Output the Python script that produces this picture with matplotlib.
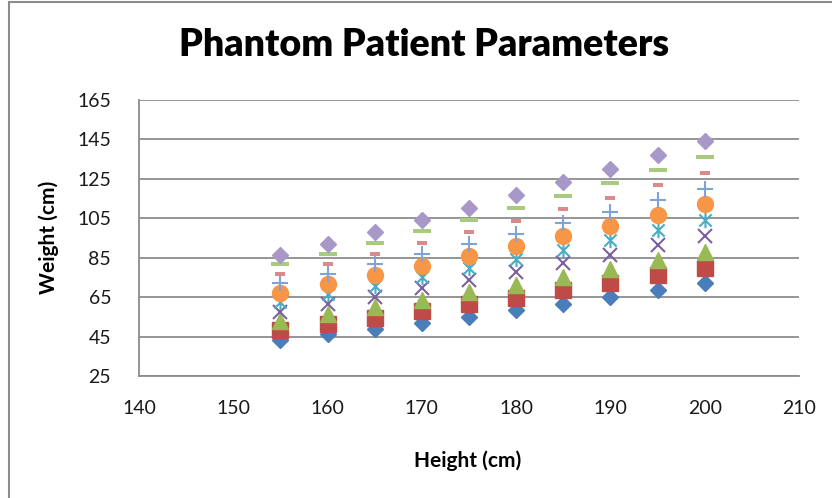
import matplotlib
matplotlib.use("Agg")
import matplotlib.pyplot as plt
from matplotlib.path import Path
from matplotlib.patches import Rectangle

# Patient heights (cm)
heights = [155, 160, 165, 170, 175, 180, 185, 190, 195, 200]

# Weight series, one list per marker group
w_blue_diamond = [43.2, 46.1, 49.0, 52.0, 55.1, 58.3, 61.6, 65.0, 68.4, 72.0]
w_red_square = [48.1, 51.2, 54.5, 57.8, 61.3, 64.8, 68.5, 72.2, 76.1, 80.0]
w_green_triangle = [52.9, 56.3, 59.9, 63.6, 67.4, 71.3, 75.3, 79.4, 83.7, 88.0]
w_purple_x = [57.7, 61.4, 65.3, 69.4, 73.5, 77.8, 82.1, 86.6, 91.3, 96.0]
w_cyan_star = [62.5, 66.6, 70.8, 75.1, 79.6, 84.2, 89.0, 93.9, 98.9, 104.0]
w_orange_circle = [67.3, 71.7, 76.2, 80.9, 85.8, 90.7, 95.8, 101.1, 106.5, 112.0]
w_blue_plus = [72.1, 76.8, 81.7, 86.7, 91.9, 97.2, 102.7, 108.3, 114.1, 120.0]
w_pink_dash = [76.9, 81.9, 87.1, 92.5, 98.0, 103.7, 109.5, 115.5, 121.7, 128.0]
w_green_dash = [81.7, 87.0, 92.6, 98.3, 104.1, 110.2, 116.4, 122.7, 129.3, 136.0]
w_lilac_diamond = [86.5, 92.2, 98.0, 104.0, 110.3, 116.6, 123.2, 130.0, 136.9, 144.0]

x_ticks = [140, 150, 160, 170, 180, 190, 200, 210]
y_ticks = [25, 45, 65, 85, 105, 125, 145, 165]

FONT = "Lato"

# asterisk-style marker: an X crossed by a vertical stroke
star = Path([(-0.8, -0.8), (0.8, 0.8), (-0.8, 0.8), (0.8, -0.8), (0, -1), (0, 1)],
            [Path.MOVETO, Path.LINETO, Path.MOVETO, Path.LINETO, Path.MOVETO, Path.LINETO])


def bar_marker(half_h):
    return Path([(-1, -half_h), (1, -half_h), (1, half_h), (-1, half_h), (-1, -half_h)],
                [Path.MOVETO, Path.LINETO, Path.LINETO, Path.LINETO, Path.CLOSEPOLY])


fig = plt.figure(figsize=(8.32, 4.98), dpi=100)
fig.patch.set_facecolor("white")

# outer chart frame
fig.patches.append(Rectangle((9 / 832, -0.05), 1.2, 1 - 2 / 498 + 0.05,
                             transform=fig.transFigure, fill=False,
                             edgecolor="#8c8c8c", linewidth=1.5))

ax = fig.add_axes([139 / 832, 1 - 376 / 498, 660 / 832, 276 / 498])

ax.plot(heights, w_blue_diamond, ls="none", marker="D", ms=8, color="#4a7ebb", mec="#4a7ebb")
ax.plot(heights, w_red_square, ls="none", marker="s", ms=11, color="#be4b48", mec="#be4b48")
ax.plot(heights, w_green_triangle, ls="none", marker="^", ms=11, color="#98b954", mec="#98b954")
ax.plot(heights, w_purple_x, ls="none", marker="x", ms=10, mew=1.5, color="#7d60a0")
ax.plot(heights, w_cyan_star, ls="none", marker=star, ms=11, mew=1.5, color="#4bacc6", mfc="none")
ax.plot(heights, w_orange_circle, ls="none", marker="o", ms=11.5, color="#f79646", mec="#f79646")
ax.plot(heights, w_blue_plus, ls="none", marker="+", ms=11.5, mew=1.5, color="#7fa3d6")
ax.plot(heights, w_pink_dash, ls="none", marker=bar_marker(0.4), ms=7.5, mew=0, color="#d98a8a")
ax.plot(heights, w_green_dash, ls="none", marker=bar_marker(0.28), ms=12.5, mew=0, color="#a9cb7f")
ax.plot(heights, w_lilac_diamond, ls="none", marker="D", ms=8, color="#a898c8", mec="#a898c8")

ax.set_xlim(140, 210)
ax.set_ylim(25, 165)
ax.set_xticks(x_ticks)
ax.set_yticks(y_ticks)
ax.set_xticklabels([str(v) for v in x_ticks], fontfamily=FONT, fontsize=14, color="#1a1a1a")
ax.set_yticklabels([str(v) for v in y_ticks], fontfamily=FONT, fontsize=14, color="#1a1a1a")
ax.tick_params(axis="both", length=0)
ax.tick_params(axis="x", pad=17)
ax.tick_params(axis="y", pad=20)

ax.grid(axis="y", color="#8c8c8c", linewidth=1.3)
ax.set_axisbelow(True)
for side in ("top", "right"):
    ax.spines[side].set_visible(False)
for side in ("left", "bottom"):
    ax.spines[side].set_color("#8c8c8c")
    ax.spines[side].set_linewidth(1.3)

fig.text(424 / 832, 1 - 45 / 498, "Phantom Patient Parameters", ha="center", va="center",
         fontfamily=FONT, fontweight="heavy", fontsize=27, color="black")
fig.text(468 / 832, 1 - 461 / 498, "Height (cm)", ha="center", va="center",
         fontfamily=FONT, fontweight="bold", fontsize=15, color="black")
fig.text(49 / 832, 1 - 237 / 498, "Weight (cm)", ha="center", va="center", rotation=90,
         fontfamily=FONT, fontweight="bold", fontsize=15, color="black")

fig.savefig("out.png", dpi=100, facecolor="white")
